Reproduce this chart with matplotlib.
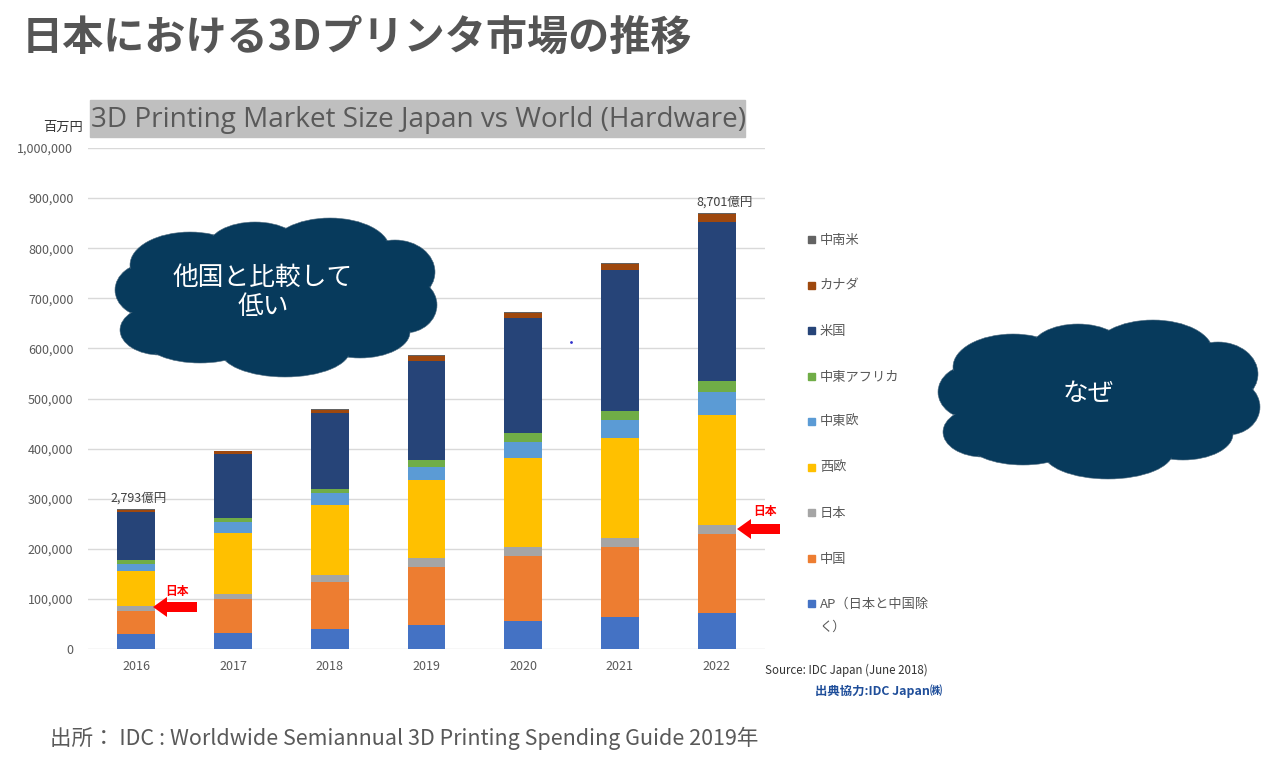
import matplotlib
matplotlib.use("Agg")
import matplotlib.pyplot as plt
from matplotlib.patches import Ellipse, FancyArrow, Rectangle
import numpy as np

plt.rcParams['font.family'] = ['Noto Sans CJK JP', 'DejaVu Sans']

# values in million yen
years = ['2016', '2017', '2018', '2019', '2020', '2021', '2022']
ap = [30000, 32600, 40500, 47900, 55900, 64500, 72500]
china = [46500, 67200, 93800, 116400, 129700, 139700, 157000]
japan = [10000, 10600, 13400, 16700, 17400, 18000, 18000]
w_europe = [69300, 121800, 139100, 156300, 178800, 198400, 219000]
ce_europe = [14000, 21900, 24000, 26600, 32000, 36500, 45900]
mea = [8000, 8000, 9200, 13300, 16700, 18600, 22500]
usa = [95300, 127100, 150500, 198200, 230200, 280800, 318000]
canada = [5300, 5600, 6900, 10200, 10500, 12800, 14800]
latam = [900, 1000, 1000, 1200, 1500, 1800, 2000]

series = [
    ('AP（日本と中国除\nく）', ap, '#4472C4'),
    ('中国', china, '#ED7D31'),
    ('日本', japan, '#A5A5A5'),
    ('西欧', w_europe, '#FFC000'),
    ('中東欧', ce_europe, '#5B9BD5'),
    ('中東アフリカ', mea, '#70AD47'),
    ('米国', usa, '#264478'),
    ('カナダ', canada, '#9E480E'),
    ('中南米', latam, '#636363'),
]

W, H = 1280, 759
fig = plt.figure(figsize=(12.8, 7.59), dpi=100)
ax = fig.add_axes([88 / W, 1 - 649 / H, (765 - 88) / W, (649 - 148) / H])

x = np.arange(len(years))
bottom = np.zeros(len(years))
for name, vals, col in series:
    ax.bar(x, vals, 0.39, bottom=bottom, color=col, zorder=3)
    bottom += np.array(vals)

ax.set_xlim(-0.5, len(years) - 0.5)
ax.set_ylim(0, 1000000)
ax.set_yticks(np.arange(0, 1000001, 100000))
ax.set_yticklabels([f'{v:,}' for v in range(0, 1000001, 100000)])
ax.set_xticks(x)
ax.set_xticklabels(years)
ax.tick_params(length=0, labelsize=9, colors='#595959')
ax.tick_params(axis='y', pad=10.5)
ax.tick_params(axis='x', pad=8)
ax.yaxis.grid(True, color='#d9d9d9', lw=1, zorder=0)
for s in ax.spines.values():
    s.set_visible(False)

ax.text(0.02, 279300 + 8000, '2,793億円', ha='center', va='bottom', fontsize=9, color='#404040')
ax.text(6.08, 870100 + 8000, '8,701億円', ha='center', va='bottom', fontsize=9, color='#404040')

# overlay in pixel coordinates for decorations
ov = fig.add_axes([0, 0, 1, 1])
ov.set_xlim(0, W)
ov.set_ylim(H, 0)
ov.axis('off')

ov.text(22, 38, '日本における3Dプリンタ市場の推移', fontsize=29.6, fontweight='bold',
        color='#555555', va='center', ha='left')
ov.add_patch(Rectangle((90, 100), 655, 37, color='#bfbfbf', zorder=1))
ov.text(91, 120, '3D Printing Market Size Japan vs World (Hardware)', family='Open Sans',
        fontsize=20.1, color='#595959', va='center', ha='left', zorder=2)
ov.text(63, 127, '百万円', fontsize=9.5, color='#333333', ha='center', va='center')


def cloud(dx, dy):
    lobes = [(150, 290, 70, 55), (160, 330, 80, 50), (190, 265, 120, 66),
             (255, 248, 95, 52), (330, 250, 120, 64), (395, 272, 80, 64),
             (405, 305, 64, 56), (360, 332, 100, 52), (285, 350, 130, 54),
             (200, 340, 110, 46), (275, 298, 250, 110)]
    for cx, cy, w, h in lobes:
        ov.add_patch(Ellipse((cx + dx, cy + dy), w, h, facecolor='#073A5C',
                             edgecolor='#4d6b80', lw=0.4, zorder=5))
    for cx, cy, w, h in lobes:
        ov.add_patch(Ellipse((cx + dx, cy + dy), w - 3, h - 3, facecolor='#073A5C',
                             edgecolor='none', zorder=6))


cloud(0, 0)
cloud(823, 102)
ov.text(263, 292, '他国と比較して\n低い', fontsize=18.5, color='white', ha='center',
        va='center', linespacing=1.15, zorder=7)
ov.text(1088, 394, 'なぜ', fontsize=18.5, color='white', ha='center', va='center', zorder=7)

# red arrows pointing at Japan
for tail, head, ay, tx, ty in [(197, 153, 607, 177, 591), (780, 737, 529, 765, 511)]:
    ov.add_patch(FancyArrow(tail, ay, head - tail, 0, width=10, head_width=20,
                            head_length=14, length_includes_head=True,
                            color='#FF0000', lw=0, zorder=4))
    ov.text(tx, ty, '日本', fontsize=8.5, fontweight='bold', color='#FF0000',
            ha='center', va='center')

# stray dot in the source slide
ov.plot([571], [342], marker='.', ms=2, color='#3333cc')

# legend
leg_y = [240, 286, 331, 377, 422, 468, 513, 559, 604]
for (name, vals, col), ly in zip(series[::-1], leg_y):
    ov.add_patch(Rectangle((808, ly - 4), 7, 7, color=col))
    for i, line in enumerate(name.split('\n')):
        ov.text(820, ly + i * 23, line, fontsize=9.5, color='#595959', ha='left', va='center')

ov.text(765, 670, 'Source: IDC Japan (June 2018)', fontsize=8.3, color='#333333',
        ha='left', va='center')
ov.text(815, 691, '出典協力:IDC Japan㈱', fontsize=8.9, fontweight='bold', color='#1F4E9A',
        ha='left', va='center')
ov.text(50, 738, '出所： IDC : Worldwide Semiannual 3D Printing Spending Guide 2019年',
        fontsize=15.5, color='#595959', ha='left', va='center')

fig.savefig('out.png', dpi=100)
